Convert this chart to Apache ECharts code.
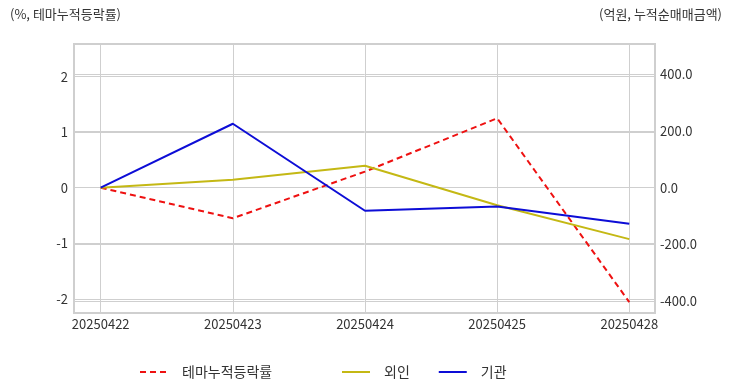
<!DOCTYPE html>
<html>
<head>
<meta charset="utf-8">
<script src="https://cdn.jsdelivr.net/npm/echarts@6/dist/echarts.min.js"></script>
<style>html,body{margin:0;padding:0;background:#fff}#c{width:732px;height:392px}</style>
</head>
<body>
<div id="c"></div>
<script>
var dates = ['20250422', '20250423', '20250424', '20250425', '20250428'];
var themeRate = [0, -0.55, 0.29, 1.25, -2.06];
var foreign = [0, 28, 77, -62, -181];
var institution = [0, 225, -81, -66, -127];
var leftRange = [-2.256, 2.587];
var rightRange = [-440.9, 505.6];

var FONT = '"Noto Sans CJK KR", "Noto Sans", sans-serif';
var chart = echarts.init(document.getElementById('c'));
var gridLine = { show: true, lineStyle: { color: '#cfcfcf', width: 1 } };
function hiddenY(range) {
  return { gridIndex: 1, type: 'value', min: range[0], max: range[1], show: false, splitLine: { show: false } };
}
var legendText = { fontSize: 14, color: '#333', padding: [0, 0, 0, 9], fontFamily: FONT };
chart.setOption({
  backgroundColor: '#fff',
  textStyle: { fontFamily: FONT },
  animation: false,
  title: [
    { text: '(%, 테마누적등락률)', left: 5, top: 3, textStyle: { fontSize: 13, fontWeight: 'normal', color: '#333', fontFamily: FONT } },
    { text: '(억원, 누적순매매금액)', right: 5, top: 3, textStyle: { fontSize: 13, fontWeight: 'normal', color: '#333', fontFamily: FONT } }
  ],
  legend: [
    { data: ['테마누적등락률'], left: 134, top: 360, itemWidth: 28, itemHeight: 14, itemGap: 28,
      itemStyle: { opacity: 0 }, textStyle: legendText },
    { data: ['외인', '기관'], left: 336, top: 360, itemWidth: 28, itemHeight: 14, itemGap: 28,
      itemStyle: { opacity: 0 }, textStyle: legendText }
  ],
  grid: [
    { left: 74, right: 77, top: 44, bottom: 79, show: true, borderColor: '#cfcfcf', borderWidth: 2 },
    { left: 100.7, right: 102.7, top: 44, bottom: 79 }
  ],
  xAxis: [
    { gridIndex: 0, type: 'value', min: 0, max: 1, show: false },
    { gridIndex: 1, type: 'category', boundaryGap: false, data: dates,
      axisLine: { show: false }, axisTick: { show: false },
      splitLine: gridLine,
      axisLabel: { color: '#333', fontSize: 13, margin: 5, fontFamily: FONT } }
  ],
  yAxis: [
    { gridIndex: 0, type: 'value', position: 'left', min: leftRange[0], max: leftRange[1],
      axisLine: { show: false }, axisTick: { show: false }, splitLine: gridLine,
      axisLabel: { color: '#333', fontSize: 13, margin: 6, showMinLabel: false, showMaxLabel: false, fontFamily: FONT,
        formatter: function (v) { return String(Math.round(v)); } } },
    { gridIndex: 0, type: 'value', position: 'right', min: rightRange[0], max: rightRange[1],
      axisLine: { show: false }, axisTick: { show: false }, splitLine: gridLine,
      axisLabel: { color: '#333', fontSize: 13, margin: 5, showMinLabel: false, showMaxLabel: false, fontFamily: FONT,
        formatter: function (v) { return v.toFixed(1); } } },
    hiddenY(leftRange),
    hiddenY(rightRange)
  ],
  series: [
    { name: '테마누적등락률', type: 'line', xAxisIndex: 1, yAxisIndex: 2, data: themeRate, symbol: 'none',
      itemStyle: { color: '#ee1111' }, lineStyle: { color: '#ee1111', width: 2, type: [6, 4] } },
    { name: '외인', type: 'line', xAxisIndex: 1, yAxisIndex: 3, data: foreign, symbol: 'none',
      itemStyle: { color: '#c4b814' }, lineStyle: { color: '#c4b814', width: 2 } },
    { name: '기관', type: 'line', xAxisIndex: 1, yAxisIndex: 3, data: institution, symbol: 'none',
      itemStyle: { color: '#0d0dd6' }, lineStyle: { color: '#0d0dd6', width: 2 } }
  ]
});
</script>
</body>
</html>
